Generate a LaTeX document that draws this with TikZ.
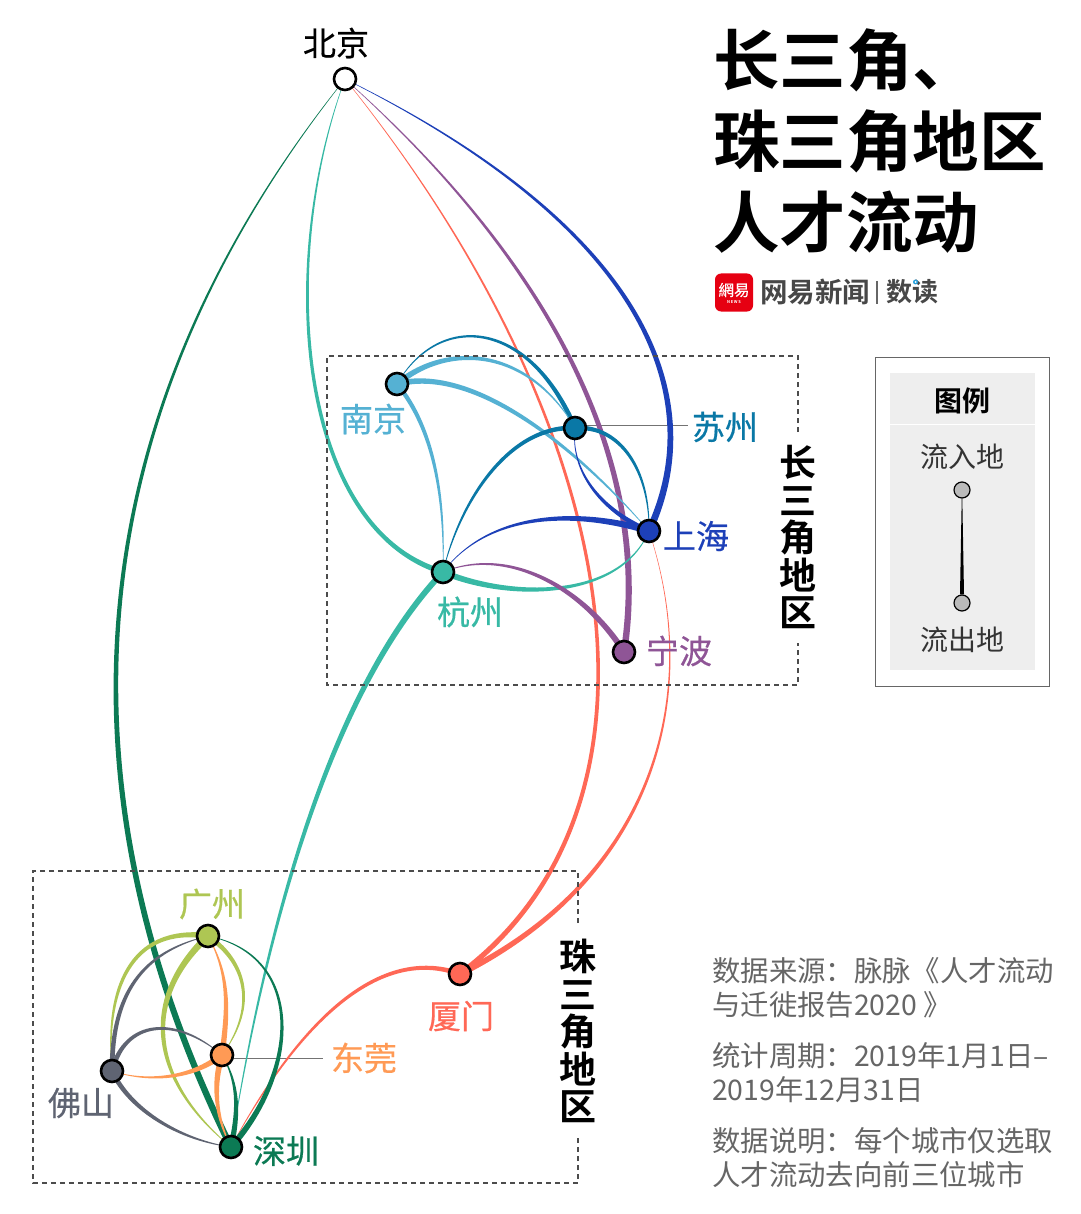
\documentclass[tikz,border=0pt]{standalone}
\usepackage{fontspec}
\setmainfont{Noto Sans CJK SC}
\newfontfamily\cjkb{Noto Sans CJK SC Bold}
\newfontfamily\cjktc{Noto Sans CJK TC}[FakeBold=0.6]
\newfontfamily\cjkm{Noto Sans CJK SC}[FakeBold=0.5]
\usetikzlibrary{calc}
\pgfdeclarelayer{edges}
\pgfsetlayers{edges,main}
\definecolor{cnj}{HTML}{55B1D3}
\definecolor{csz}{HTML}{0A78A6}
\definecolor{csh}{HTML}{1D40B8}
\definecolor{chz}{HTML}{38B9A5}
\definecolor{cnb}{HTML}{8F5596}
\definecolor{cgz}{HTML}{AEC653}
\definecolor{cdg}{HTML}{FF9A55}
\definecolor{cfs}{HTML}{5F6472}
\definecolor{csj}{HTML}{0C7A54}
\definecolor{cxm}{HTML}{FF6856}
\definecolor{cnote}{HTML}{666666}
\definecolor{clogo}{HTML}{E60012}
\definecolor{cdot}{HTML}{28A0DC}
\tikzset{
  city/.style={circle,draw=black,line width=2.6pt,minimum size=22pt,inner sep=0pt,fill=#1},
  lab/.style={font=\cjkm\fontsize{33}{33}\selectfont,inner sep=0pt,text=#1},
  note/.style={font=\fontsize{28.4}{34}\selectfont,inner sep=0pt,text=cnote,anchor=west},
  title/.style={font=\cjkb\fontsize{66.5}{66}\selectfont,inner sep=0pt,anchor=west},
  vlab/.style={font=\cjkb\fontsize{37}{37.5}\selectfont,inner sep=0pt,align=center},
  region/.style={black!70,line width=1.1pt,dash pattern=on 5pt off 4pt},
  leader/.style={draw=black!55,line width=1pt},
  legtext/.style={font=\fontsize{28}{28}\selectfont,inner sep=0pt,text=black!80},
  legdot/.style={circle,draw=black,line width=1.2pt,minimum size=16pt,inner sep=0pt,fill=black!27},
}
% #1 colour, #2 thick end, #3 thin end, #4 and #5 control points, #6 width, #7 and #8 width shares at the control points
\newcommand\flowp[8]{%
  \path[fill=#1] ($(#2.center)!#6/2!90:(#4)$)
    .. controls ($(#4)!#6*#7!90:(#5)$) and ($(#5)!#6*#8!90:(#3.center)$) .. ($(#3.center)!.2pt!-90:(#5)$)
    -- ($(#3.center)!.2pt!90:(#5)$)
    .. controls ($(#5)!#6*#8!-90:(#3.center)$) and ($(#4)!#6*#7!-90:(#5)$) .. ($(#2.center)!#6/2!-90:(#4)$) -- cycle;}
\newcommand\flow[6]{\flowp{#1}{#2}{#3}{#4}{#5}{#6}{.48}{.28}}
\begin{document}
\begin{tikzpicture}[x=1pt,y=-1pt]
\useasboundingbox (0,0) rectangle (1080,1214);
% cities
\node[city=white] (bj) at (345,79) {};
\node[city=cnj] (nj) at (397,384) {};
\node[city=csz] (sz) at (575,428) {};
\node[city=csh] (sh) at (649,531) {};
\node[city=chz] (hz) at (443,572) {};
\node[city=cnb] (nb) at (624,652) {};
\node[city=cgz] (gz) at (208,936) {};
\node[city=cdg] (dg) at (222,1055) {};
\node[city=cfs] (fs) at (112,1071) {};
\node[city=csj] (sj) at (231,1147) {};
\node[city=cxm] (xm) at (460,974) {};
% labels
\node[lab=black] (lbj) at (336,43) {北京};
\node[lab=cnj] (lnj) at (373,419) {南京};
\node[lab=csz] (lsz) at (725,427) {苏州};
\node[lab=csh] (lsh) at (696,536) {上海};
\node[lab=chz] (lhz) at (470,612) {杭州};
\node[lab=cnb] (lnb) at (679,651) {宁波};
\node[lab=cgz] (lgz) at (212,904) {广州};
\node[lab=cdg] (ldg) at (364,1058) {东莞};
\node[lab=cfs] (lfs) at (81,1103) {佛山};
\node[lab=csj] (lsj) at (286,1151) {深圳};
\node[lab=cxm] (lxm) at (461,1016) {厦门};
\begin{pgfonlayer}{edges}
\draw[leader] ([yshift=3pt]sz.center) -- ([xshift=-4pt,yshift=2pt]lsz.west);
\draw[leader] ([yshift=-3pt]dg.center) -- ([xshift=-8pt]ldg.west);
% to Beijing
\flow{csj}{sj}{bj}{60,800}{65,430}{6.5pt}
\flow{chz}{hz}{bj}{300,530}{275,270}{5.5pt}
\flow{cxm}{xm}{bj}{690,800}{620,420}{5.5pt}
\flow{cnb}{nb}{bj}{650,480}{570,280}{6.5pt}
\flow{csh}{sh}{bj}{710,400}{650,230}{7pt}
% long
\flow{chz}{hz}{sj}{340,680}{270,900}{6pt}
\flowp{cxm}{xm}{sh}{650,880}{705,700}{6pt}{.4}{.08}
\flow{cxm}{xm}{sj}{380,945}{300,1020}{5pt}
% YRD
\flow{csz}{sz}{nj}{530,320}{440,310}{5pt}
\flow{cnj}{nj}{sz}{450,340}{530,350}{6pt}
\flow{cnj}{nj}{sh}{470,365}{570,440}{6pt}
\flow{cnj}{nj}{hz}{435,430}{445,500}{4.5pt}
\flow{csz}{sz}{hz}{510,425}{460,500}{5pt}
\flow{csz}{sz}{sh}{620,425}{650,470}{5pt}
\flowp{csh}{sh}{sz}{600,510}{570,470}{5pt}{.45}{.12}
\flowp{csh}{sh}{hz}{580,510}{490,510}{6.5pt}{.48}{.12}
\flow{chz}{hz}{sh}{510,600}{620,600}{6pt}
\flow{cnb}{nb}{hz}{585,590}{510,545}{6pt}
% PRD
\flow{cgz}{gz}{fs}{130,925}{105,990}{6pt}
\flow{cfs}{fs}{gz}{112,985}{150,950}{5pt}
\flow{cgz}{gz}{sj}{140,1000}{150,1080}{7pt}
\flow{cgz}{gz}{dg}{250,965}{255,1010}{5pt}
\flow{cdg}{dg}{gz}{228,1010}{230,975}{5.5pt}
\flow{csj}{sj}{gz}{300,1070}{305,955}{6pt}
\flow{cfs}{fs}{dg}{125,1020}{175,1015}{5.5pt}
\flowp{cdg}{dg}{fs}{190,1080}{145,1082}{6pt}{.4}{.1}
\flow{cfs}{fs}{sj}{130,1110}{180,1140}{5pt}
\flow{csj}{sj}{dg}{238,1115}{240,1085}{5.5pt}
\flow{cdg}{dg}{sj}{213,1085}{215,1115}{6pt}
\end{pgfonlayer}
% region frames
\draw[region] (798,432) -- (798,356) -- (327,356) -- (327,685) -- (798,685) -- (798,643);
\draw[region] (578,923) -- (578,871) -- (33,871) -- (33,1183) -- (578,1183) -- (578,1137);
\node[vlab] (vyrd) at (798,537) {长\\三\\角\\地\\区};
\node[vlab] (vprd) at (578,1031) {珠\\三\\角\\地\\区};
% title
\node[title] (t1) at (713,60) {长三角、};
\node[title] (t2) at (713,141) {珠三角地区};
\node[title] (t3) at (713,222) {人才流动};
% logo
\node[fill=clogo,rounded corners=6pt,minimum size=38pt,inner sep=0pt] (logo) at (734,292.5) {};
\node[font=\cjktc\fontsize{15.5}{16}\selectfont,text=white,inner sep=0pt] (logoa) at (734,290) {網易};
\node[font=\cjkb\fontsize{4}{5}\selectfont,text=white,inner sep=0pt] (logob) at (734,302) {N\,E\,W\,S};
\node[font=\cjkb\fontsize{27.5}{28}\selectfont,text=black!72,inner sep=0pt,anchor=west] (brand) at (760,292) {网易新闻};
\draw[line width=1.2pt,black!60] (877,281) -- (877,304);
\node[font=\cjkb\fontsize{26}{28}\selectfont,text=black!72,inner sep=0pt,anchor=west] (brand2) at (886,292) {数读};
\fill[cdot] (915.5,282) circle (2.5pt);
\fill[white] (915.5,282) circle (1pt);
% legend
\draw[black!60,line width=1pt] (875,357) rectangle (1049,686);
\fill[black!6.5] (890,373) rectangle (1035,670);
\draw[white,line width=1pt] (890,424) -- (1035,424);
\node[font=\cjkb\fontsize{28}{28}\selectfont,inner sep=0pt] (leg) at (962,401) {图例};
\node[legtext] (legin) at (962,457) {流入地};
\node[legtext] (legout) at (962,640) {流出地};
\node[legdot] (din) at (962,490) {};
\node[legdot] (dout) at (962,603) {};
\fill[black] ([xshift=-2pt]dout.north) -- ([xshift=-.3pt]din.south) -- ([xshift=.3pt]din.south) -- ([xshift=2pt]dout.north) -- cycle;
% notes
\node[note] (n1) at (712,971) {数据来源：脉脉《\kern1pt 人才流动};
\node[note] (n2) at (712,1005) {与迁徙报告2020 》};
\node[note] (n3) at (712,1056) {统计周期：2019年1月1日–};
\node[note] (n4) at (712,1090) {2019年12月31日};
\node[note] (n5) at (712,1141) {数据说明：每个城市仅选取};
\node[note] (n6) at (712,1175) {人才流动去向前三位城市};
\end{tikzpicture}
\end{document}
